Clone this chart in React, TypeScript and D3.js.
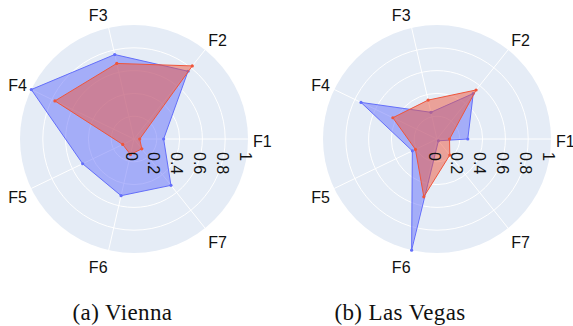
import React from 'react';
import * as d3 from 'd3';

// Feature axes and radial axis ticks
const categories = ['F1', 'F2', 'F3', 'F4', 'F5', 'F6', 'F7'];
const radialTicks = [0, 0.2, 0.4, 0.6, 0.8, 1];
const radialTickLabels = ['0', '0.2', '0.4', '0.6', '0.8', '1'];

// Vienna
const viennaBlue = [0.26, 0.76, 0.76, 1.0, 0.5, 0.51, 0.52];
const viennaRed = [0.05, 0.82, 0.68, 0.77, 0.11, 0.14, 0.11];

// Las Vegas
const vegasBlue = [0.27, 0.51, 0.24, 0.74, 0.24, 1.0, 0.02];
const vegasRed = [0.11, 0.55, 0.35, 0.43, 0.21, 0.52, 0.18];

const captions = ['(a) Vienna', '(b) Las Vegas'];

const WIDTH = 573;
const HEIGHT = 326;
const R = 114;
const BLUE = '#636efa';
const RED = '#ef553b';
const BG = '#e5ecf6';
const SANS = '"Liberation Sans", Arial, sans-serif';
const SERIF = '"Liberation Serif", "Times New Roman", serif';

const rScale = d3.scaleLinear().domain([0, 1]).range([0, R]);
const thetaScale = d3.scaleLinear().domain([0, categories.length]).range([0, 2 * Math.PI]);

// d3 radial angles run clockwise from 12 o'clock; features run counter-clockwise from 3 o'clock
const radialLine = d3
  .lineRadial<number>()
  .angle((_, i) => Math.PI / 2 - thetaScale(i))
  .radius((d) => rScale(d))
  .curve(d3.curveLinearClosed);

type RadarProps = { cx: number; cy: number; series: { values: number[]; color: string }[] };

function Radar({ cx, cy, series }: RadarProps) {
  const gridRings = radialTicks.filter((t) => t > 0 && t < 1);
  return (
    <g transform={`translate(${cx},${cy})`}>
      <circle r={rScale(1)} fill={BG} />
      {gridRings.map((t) => (
        <circle key={t} r={rScale(t)} fill="none" stroke="#ffffff" strokeWidth={1} />
      ))}
      {categories.map((c, i) => {
        const th = thetaScale(i);
        return (
          <line
            key={c}
            x1={0}
            y1={0}
            x2={rScale(1) * Math.cos(th)}
            y2={-rScale(1) * Math.sin(th)}
            stroke="#ffffff"
            strokeWidth={1}
          />
        );
      })}
      {series.map((s, k) => (
        <g key={k}>
          <path
            d={radialLine(s.values) || ''}
            fill={s.color}
            fillOpacity={0.5}
            stroke={s.color}
            strokeWidth={1}
            strokeLinejoin="round"
          />
          {s.values.map((v, i) => {
            const th = thetaScale(i);
            return (
              <circle
                key={i}
                cx={rScale(v) * Math.cos(th)}
                cy={-rScale(v) * Math.sin(th)}
                r={1.6}
                fill={s.color}
              />
            );
          })}
        </g>
      ))}
      {radialTicks.map((t, i) => {
        const x = rScale(t) - 3;
        const y = 13;
        return (
          <text
            key={t}
            x={x}
            y={y}
            transform={`rotate(90,${x},${y})`}
            textAnchor="start"
            dominantBaseline="central"
            fontFamily={SANS}
            fontSize={16}
            fill="#111"
          >
            {radialTickLabels[i]}
          </text>
        );
      })}
      {categories.map((c, i) => {
        const th = thetaScale(i);
        const cos = Math.cos(th);
        const sin = Math.sin(th);
        const anchor = cos > 0.1 ? 'start' : cos < -0.1 ? 'end' : 'middle';
        return (
          <text
            key={c}
            x={119 * cos}
            y={-129 * sin + 2.5}
            textAnchor={anchor}
            dominantBaseline="central"
            fontFamily={SANS}
            fontSize={16}
            fill="#111"
          >
            {c}
          </text>
        );
      })}
    </g>
  );
}

export default function App() {
  const panels = [
    { cx: 134, cy: 139, captionX: 122.5, blue: viennaBlue, red: viennaRed, caption: captions[0] },
    { cx: 437, cy: 139, captionX: 400, blue: vegasBlue, red: vegasRed, caption: captions[1] },
  ];
  return (
    <div style={{ position: 'absolute', left: 0, top: 0 }}>
      <svg width={WIDTH} height={HEIGHT} style={{ display: 'block', background: '#ffffff' }}>
        {panels.map((p) => (
          <g key={p.caption}>
            <Radar
              cx={p.cx}
              cy={p.cy}
              series={[
                { values: p.blue, color: BLUE },
                { values: p.red, color: RED },
              ]}
            />
            <text
              x={p.captionX}
              y={320}
              textAnchor="middle"
              fontFamily={SERIF}
              fontSize={23}
              letterSpacing={0.4}
              fill="#111"
            >
              {p.caption}
            </text>
          </g>
        ))}
      </svg>
    </div>
  );
}
